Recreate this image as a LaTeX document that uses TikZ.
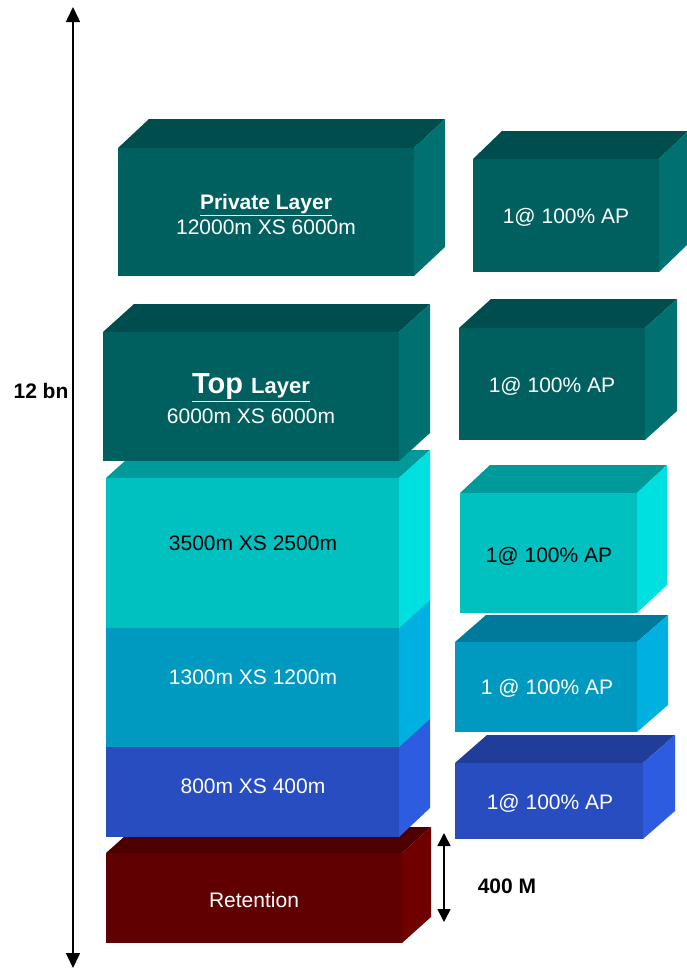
\documentclass[tikz,border=0pt]{standalone}
\usepackage{fontspec}
\setmainfont{Liberation Sans}
\usepackage{tikz}
\usetikzlibrary{arrows.meta}

\definecolor{darkfront}{HTML}{006060}
\definecolor{darktop}{HTML}{004D4D}
\definecolor{darkside}{HTML}{007070}
\definecolor{aquafront}{HTML}{00C0C0}
\definecolor{aquatop}{HTML}{009A9A}
\definecolor{aquaside}{HTML}{00E0E0}
\definecolor{skyfront}{HTML}{0099C0}
\definecolor{skytop}{HTML}{007A9A}
\definecolor{skyside}{HTML}{00B0E0}
\definecolor{bluefront}{HTML}{284DC0}
\definecolor{bluetop}{HTML}{203D9A}
\definecolor{blueside}{HTML}{2D5CE0}
\definecolor{redfront}{HTML}{600000}
\definecolor{redtop}{HTML}{4D0000}
\definecolor{redside}{HTML}{700000}

% #1 name, #2/#3 front top left, #4/#5 front bottom right, #6/#7 depth, #8 colour
\newcommand\slab[8]{%
	\fill[#8top] (#2,#3) -- ++(#6,-#7) -- (#4+#6,#3-#7) -- (#4,#3) -- cycle;
	\fill[#8side] (#4,#3) -- (#4+#6,#3-#7) -- (#4+#6,#5-#7) -- (#4,#5) -- cycle;
	\fill[#8front] (#2,#3) rectangle (#4,#5);
	\coordinate (#1) at ({(#2+#4)/2},{(#3+#5)/2});
}

\begin{document}
\begin{tikzpicture}[x=1pt,y=-1pt]
	\useasboundingbox (0,0) rectangle (687,969);

	% left stack, bottom up
	\slab{ret}{106}{853}{402}{943}{29}{26}{red}
	\slab{l800}{106}{747}{399}{837}{31}{29}{blue}
	\slab{l1300}{106}{628}{399}{747}{31}{28}{sky}
	\slab{l3500}{106}{478}{399}{628}{31}{28}{aqua}
	\slab{top}{103}{332}{399}{461}{31}{28}{dark}
	\slab{priv}{118}{148}{414}{276}{31}{29}{dark}

	% right column
	\slab{apPriv}{473}{159}{659}{272}{29}{28}{dark}
	\slab{apTop}{459}{328}{645}{440}{32}{29}{dark}
	\slab{ap3500}{460}{493}{637}{613}{30}{28}{aqua}
	\slab{ap1300}{455}{642}{637}{732}{31}{27}{sky}
	\slab{ap800}{455}{763}{643}{839}{32}{28}{blue}

	\begin{scope}[every node/.style={text=white, align=center,
	              font=\fontsize{21}{25}\selectfont}]
		\node (1) at (266,214) {\textbf{\underline{Private Layer}}\\12000m XS 6000m};
		\node (2) at (251,399) {\textbf{\underline{\fontsize{29}{29}\selectfont Top \fontsize{22}{22}\selectfont Layer}}\\[5pt]6000m XS 6000m};
		\node[text=black] (3) at (253,543) {3500m XS 2500m};
		\node (4) at (253,677) {1300m XS 1200m};
		\node (5) at (253,786) {800m XS 400m};
		\node (6) at (254,900) {Retention};
		\node (7) at (566,217) {1@ 100\% AP};
		\node (8) at (552,386) {1@ 100\% AP};
		\node[text=black] (9) at (549,556) {1@ 100\% AP};
		\node (10) at (547,688) {1 @ 100\% AP};
		\node (11) at (550,803) {1@ 100\% AP};
	\end{scope}

	% scale arrows
	\coordinate (scaleTop) at (73,7);
	\coordinate (scaleBot) at (73,968);
	\coordinate (retTop) at (444,833);
	\coordinate (retBot) at (444,922);
	\begin{scope}[line width=1.5pt,
	              every node/.style={font=\fontsize{21}{25}\selectfont\bfseries}]
		\draw[{Triangle[length=15pt,width=14pt]}-{Triangle[length=15pt,width=14pt]}] (scaleTop) -- (scaleBot);
		\draw[{Triangle[length=13pt,width=13pt]}-{Triangle[length=13pt,width=13pt]}] (retTop) -- (retBot);
		\node (bn) at (41,391) {12 bn};
		\node (m) at (507,886) {400 M};
	\end{scope}
\end{tikzpicture}
\end{document}
